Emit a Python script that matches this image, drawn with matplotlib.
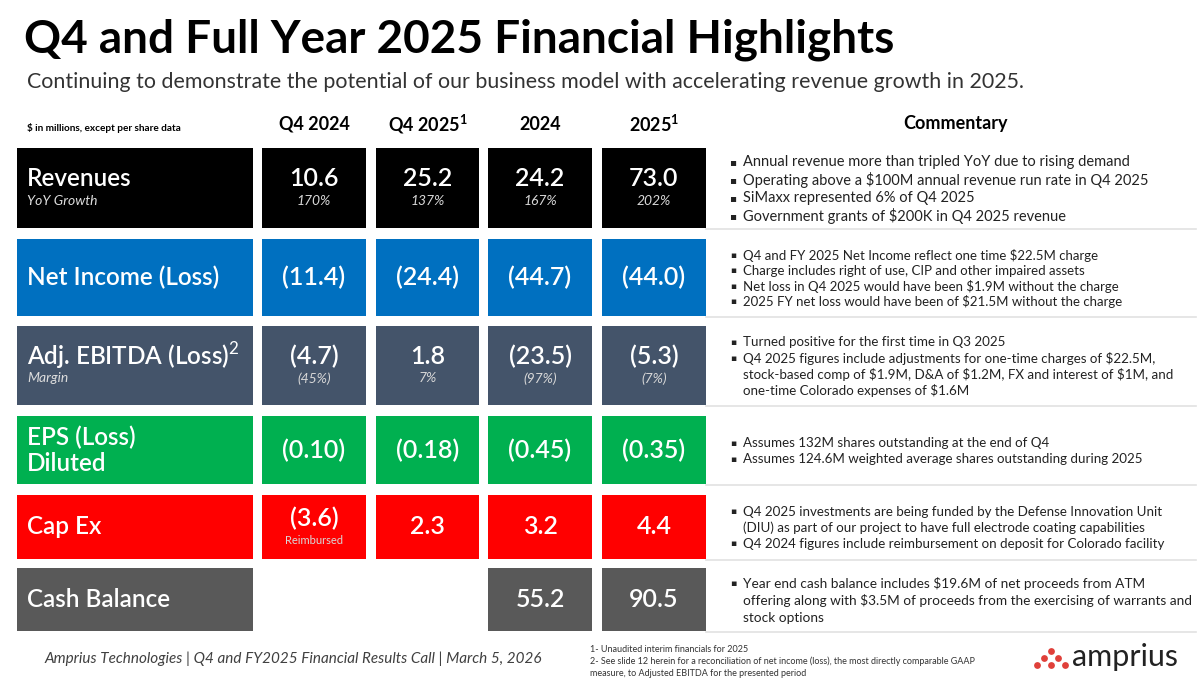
import matplotlib
matplotlib.use("Agg")
import matplotlib.pyplot as plt
from matplotlib.patches import Rectangle

# ====== DATA ======
title = "Q4 and Full Year 2025 Financial Highlights"
subtitle = "Continuing to demonstrate the potential of our business model with accelerating revenue growth in 2025."
units_note = "$ in millions, except per share data"
col_headers = ["Q4 2024", "Q4 2025$^{\\mathbf{1}}$", "2024", "2025$^{\\mathbf{1}}$"]

row_labels = ["Revenues", "Net Income (Loss)", "Adj. EBITDA (Loss)$^{2}$", "EPS (Loss)\nDiluted", "Cap Ex", "Cash Balance"]
row_sublabels = ["YoY Growth", "", "Margin", "", "", ""]
row_colors = ["#000000", "#0070C0", "#44546A", "#00B050", "#FF0000", "#595959"]

revenues = [10.6, 25.2, 24.2, 73.0]
revenue_growth = [170, 137, 167, 202]
net_income = [-11.4, -24.4, -44.7, -44.0]
adj_ebitda = [-4.7, 1.8, -23.5, -5.3]
ebitda_margin = [-45, 7, -97, -7]
eps_diluted = [-0.10, -0.18, -0.45, -0.35]
cap_ex = [-3.6, 2.3, 3.2, 4.4]
capex_notes = ["Reimbursed", None, None, None]
cash_balance = [None, None, 55.2, 90.5]

commentary = [
    ["Annual revenue more than tripled YoY due to rising demand",
     "Operating above a $100M annual revenue run rate in Q4 2025",
     "SiMaxx represented 6% of Q4 2025",
     "Government grants of $200K in Q4 2025 revenue"],
    ["Q4 and FY 2025 Net Income reflect one time $22.5M charge",
     "Charge includes right of use, CIP and other impaired assets",
     "Net loss in Q4 2025 would have been $1.9M without the charge",
     "2025 FY net loss would have been of $21.5M without the charge"],
    ["Turned positive for the first time in Q3 2025",
     "Q4 2025 figures include adjustments for one-time charges of $22.5M,\nstock-based comp of $1.9M, D&A of $1.2M, FX and interest of $1M, and\none-time Colorado expenses of $1.6M"],
    ["Assumes 132M shares outstanding at the end of Q4",
     "Assumes 124.6M weighted average shares outstanding during 2025"],
    ["Q4 2025 investments are being funded by the Defense Innovation Unit\n(DIU) as part of our project to have full electrode coating capabilities",
     "Q4 2024 figures include reimbursement on deposit for Colorado facility"],
    ["Year end cash balance includes $19.6M of net proceeds from ATM\noffering along with $3.5M of proceeds from the exercising of warrants and\nstock options"],
]

footer = "Amprius Technologies | Q4 and FY2025 Financial Results Call | March 5, 2026"
footnotes = ["1- Unaudited interim financials for 2025",
             "2- See slide 12 herein for a reconciliation of net income (loss), the most directly comparable GAAP",
             "measure, to Adjusted EBITDA for the presented period"]


def fmt(v, dec=1):
    if v is None:
        return None
    s = f"{abs(v):.{dec}f}"
    return f"({s})" if v < 0 else s


def fmt_pct(v):
    return f"({abs(v)}%)" if v < 0 else f"{v}%"


main_vals = [
    [fmt(v) for v in revenues],
    [fmt(v) for v in net_income],
    [fmt(v) for v in adj_ebitda],
    [fmt(v, 2) for v in eps_diluted],
    [fmt(v) for v in cap_ex],
    [fmt(v) for v in cash_balance],
]
sub_vals = [
    [fmt_pct(v) for v in revenue_growth],
    [None] * 4,
    [fmt_pct(v) for v in ebitda_margin],
    [None] * 4,
    capex_notes,
    [None] * 4,
]

# ====== LAYOUT (pixels) ======
W, H = 1200, 687
row_y = [(148, 228), (239, 316), (326, 405), (416, 484), (495, 559), (568, 631)]
label_x = (17, 253)
col_x = [(262, 366), (376, 479), (488, 592), (602, 706)]
comm_line = [18, 15.5, 16, 16, 16, 17]
comm_size = [10.5, 9.5, 9.6, 9.6, 9.6, 9.8]

FONT = "Lato"
plt.rcParams["font.family"] = [FONT, "DejaVu Sans"]
plt.rcParams["mathtext.fontset"] = "custom"
plt.rcParams["mathtext.rm"] = FONT
plt.rcParams["mathtext.bf"] = FONT + ":bold"

fig = plt.figure(figsize=(12, 6.87), dpi=100)
ax = fig.add_axes([0, 0, 1, 1])
ax.set_xlim(0, W)
ax.set_ylim(H, 0)
ax.axis("off")

ax.text(24, 40, title, fontsize=33, fontweight="bold", va="center", ha="left", color="#000000")
ax.text(27, 82, subtitle, fontsize=15.4, va="center", ha="left", color="#333333")

ax.text(27, 128, units_note, fontsize=7.2, fontweight="bold", va="center", ha="left")
for (x0, x1), h in zip(col_x, col_headers):
    ax.text((x0 + x1) / 2, 124, h, fontsize=13, fontweight="bold", va="center", ha="center")
ax.text(956, 124, "Commentary", fontsize=13, fontweight="bold", va="center", ha="center")

for i, (y0, y1) in enumerate(row_y):
    c = row_colors[i]
    ax.add_patch(Rectangle((label_x[0], y0), label_x[1] - label_x[0], y1 - y0, color=c, lw=0))
    yc = (y0 + y1) / 2
    if row_sublabels[i]:
        ax.text(27, yc - 9, row_labels[i], fontsize=17.5, fontweight="semibold", color="white", va="center")
        ax.text(27, yc + 13, row_sublabels[i], fontsize=10, style="italic", color="#dddddd", va="center")
    else:
        ax.text(27, yc, row_labels[i], fontsize=17.5, fontweight="semibold", color="white", va="center",
                linespacing=1.15)

    for j, (x0, x1) in enumerate(col_x):
        v = main_vals[i][j]
        if v is None:
            continue
        ax.add_patch(Rectangle((x0, y0), x1 - x0, y1 - y0, color=c, lw=0))
        xc = (x0 + x1) / 2
        s = sub_vals[i][j]
        if s is not None:
            ax.text(xc, yc - 9, v, fontsize=18, fontweight="semibold", color="white", va="center", ha="center")
            ax.text(xc, yc + 13, s, fontsize=10 if i != 4 else 8, style="italic" if i != 4 else "normal",
                    color="#d8d8d8", va="center", ha="center")
        else:
            ax.text(xc, yc, v, fontsize=18, fontweight="semibold", color="white", va="center", ha="center")

    # separator under commentary
    ax.plot([706, 1196], [y1 + 1, y1 + 1], color="#e2e2e2", lw=1.2)

    # commentary bullets
    lines = []
    for b in commentary[i]:
        for k, ln in enumerate(b.split("\n")):
            lines.append((k == 0, ln))
    n = len(lines)
    step = comm_line[i]
    start = yc - step * (n - 1) / 2 + 1
    for k, (bul, ln) in enumerate(lines):
        y = start + k * step
        if bul:
            ax.text(733, y, "\u25aa", fontsize=comm_size[i] - 3, va="center", ha="center",
                    family=["DejaVu Sans"], color="#222222")
        ax.text(743, y, ln.replace("$", "\\$"), fontsize=comm_size[i], va="center", ha="left", color="#222222")

# footer
ax.text(45, 659, footer, fontsize=11, style="italic", va="center", ha="left", color="#404040")
for k, fn in enumerate(footnotes):
    ax.text(590, 650 + k * 11.5, fn, fontsize=6.5, va="center", ha="left", color="#333333")

# logo: dot cluster + wordmark
dot_x = [1051, 1044, 1058, 1037, 1051, 1065]
dot_y = [651, 658, 658, 665, 665, 665]
ax.scatter(dot_x, dot_y, s=24, color="#E0403A", lw=0)
ax.text(1072, 657, "amprius", fontsize=22, va="center", ha="left", color="#222222")

fig.savefig("out.png", dpi=100)
